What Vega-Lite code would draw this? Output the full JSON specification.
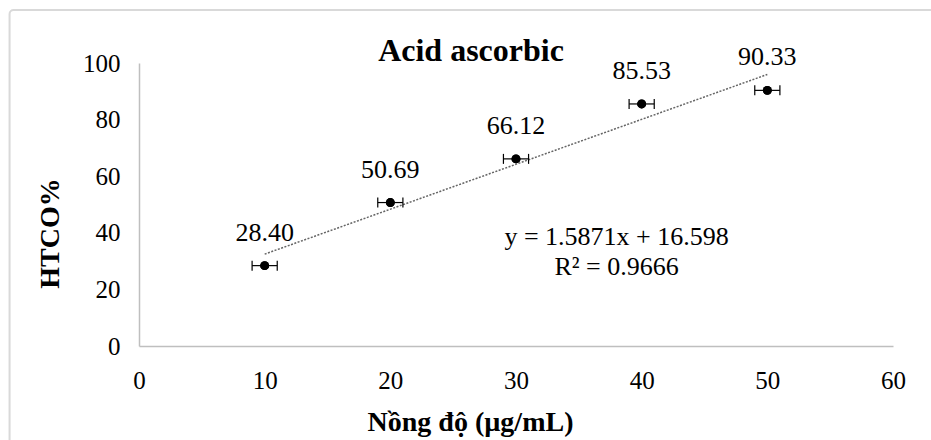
{
  "$schema": "https://vega.github.io/schema/vega-lite/v6.json",
  "width": 754,
  "height": 283,
  "autosize": {"type": "none"},
  "padding": {"left": 139, "top": 63, "right": 38, "bottom": 94},
  "background": "white",
  "config": {"view": {"stroke": null}, "font": "Liberation Serif"},
  "title": {
    "text": "Acid ascorbic",
    "font": "Liberation Serif",
    "fontSize": 32,
    "fontWeight": "bold",
    "color": "#000000",
    "anchor": "middle",
    "frame": "group",
    "dx": -45,
    "offset": 0,
    "baseline": "middle",
    "dy": 74
  },
  "datasets": {
    "points": [
      {"conc": 10, "htco": 28.40, "lo": 9.0, "hi": 11.0, "label": "28.40"},
      {"conc": 20, "htco": 50.69, "lo": 19.0, "hi": 21.0, "label": "50.69"},
      {"conc": 30, "htco": 66.12, "lo": 29.0, "hi": 31.0, "label": "66.12"},
      {"conc": 40, "htco": 85.53, "lo": 39.0, "hi": 41.0, "label": "85.53"},
      {"conc": 50, "htco": 90.33, "lo": 49.0, "hi": 51.0, "label": "90.33"}
    ]
  },
  "layer": [
    {
      "data": {"name": "points"},
      "mark": {"type": "circle", "size": 80, "color": "#000000", "opacity": 1},
      "encoding": {
        "x": {
          "field": "conc",
          "type": "quantitative",
          "scale": {"domain": [0, 60], "nice": false, "zero": false},
          "axis": {
            "title": "Nồng độ (µg/mL)",
            "values": [0, 10, 20, 30, 40, 50, 60],
            "grid": false,
            "ticks": false,
            "domainColor": "#bfbfbf",
            "domainWidth": 1.5,
            "labelFont": "Liberation Serif",
            "labelFontSize": 25,
            "labelColor": "#000000",
            "labelPadding": 22,
            "labelFlush": false,
            "labelOverlap": false,
            "titleFont": "Liberation Serif",
            "titleFontSize": 28,
            "titleFontWeight": "bold",
            "titleColor": "#000000",
            "titleX": 331,
            "titleY": 76,
            "titleBaseline": "middle",
            "titleAlign": "center"
          }
        },
        "y": {
          "field": "htco",
          "type": "quantitative",
          "scale": {"domain": [0, 100], "nice": false, "zero": false},
          "axis": {
            "title": "HTCO%",
            "values": [0, 20, 40, 60, 80, 100],
            "grid": false,
            "ticks": false,
            "domainColor": "#bfbfbf",
            "domainWidth": 1.5,
            "labelFont": "Liberation Serif",
            "labelFontSize": 25,
            "labelColor": "#000000",
            "labelPadding": 19,
            "labelOverlap": false,
            "titleFont": "Liberation Serif",
            "titleFontSize": 28,
            "titleFontWeight": "bold",
            "titleColor": "#000000",
            "titleX": -89,
            "titleY": 170,
            "titleBaseline": "middle",
            "titleAlign": "center"
          }
        }
      }
    },
    {
      "data": {"values": [{}]},
      "mark": {"type": "rect", "fill": null, "stroke": "#d9d9d9", "strokeWidth": 2, "cornerRadius": 4, "clip": false},
      "encoding": {
        "x": {"datum": -10.3, "type": "quantitative"},
        "x2": {"datum": 64},
        "y": {"datum": 118.7, "type": "quantitative"},
        "y2": {"datum": -40}
      }
    },
    {
      "data": {"name": "points"},
      "transform": [{"regression": "htco", "on": "conc", "extent": [10, 50]}],
      "mark": {"type": "line", "color": "#666666", "strokeWidth": 1.5, "strokeDash": [2, 1.5]},
      "encoding": {
        "x": {"field": "conc", "type": "quantitative"},
        "y": {"field": "htco", "type": "quantitative"}
      }
    },
    {
      "data": {"name": "points"},
      "mark": {"type": "rule", "color": "#000000", "strokeWidth": 1.2},
      "encoding": {
        "x": {"field": "lo", "type": "quantitative"},
        "x2": {"field": "hi"},
        "y": {"field": "htco", "type": "quantitative"}
      }
    },
    {
      "data": {"name": "points"},
      "mark": {"type": "tick", "orient": "vertical", "size": 10, "thickness": 1.2, "color": "#000000", "opacity": 1},
      "encoding": {
        "x": {"field": "lo", "type": "quantitative"},
        "y": {"field": "htco", "type": "quantitative"}
      }
    },
    {
      "data": {"name": "points"},
      "mark": {"type": "tick", "orient": "vertical", "size": 10, "thickness": 1.2, "color": "#000000", "opacity": 1},
      "encoding": {
        "x": {"field": "hi", "type": "quantitative"},
        "y": {"field": "htco", "type": "quantitative"}
      }
    },
    {
      "data": {"name": "points"},
      "mark": {"type": "circle", "size": 80, "color": "#000000", "opacity": 1},
      "encoding": {
        "x": {"field": "conc", "type": "quantitative"},
        "y": {"field": "htco", "type": "quantitative"}
      }
    },
    {
      "data": {"name": "points"},
      "mark": {"type": "text", "font": "Liberation Serif", "fontSize": 26, "color": "#000000", "baseline": "middle", "align": "center", "dy": -33},
      "encoding": {
        "x": {"field": "conc", "type": "quantitative"},
        "y": {"field": "htco", "type": "quantitative"},
        "text": {"field": "label"}
      }
    },
    {
      "data": {"values": [{"eq": ["y = 1.5871x + 16.598", "R² = 0.9666"]}]},
      "mark": {"type": "text", "font": "Liberation Serif", "fontSize": 26, "color": "#000000", "baseline": "middle", "align": "center", "lineHeight": 30},
      "encoding": {
        "x": {"datum": 38.0, "type": "quantitative"},
        "y": {"datum": 38.5, "type": "quantitative"},
        "text": {"field": "eq"}
      }
    }
  ]
}
